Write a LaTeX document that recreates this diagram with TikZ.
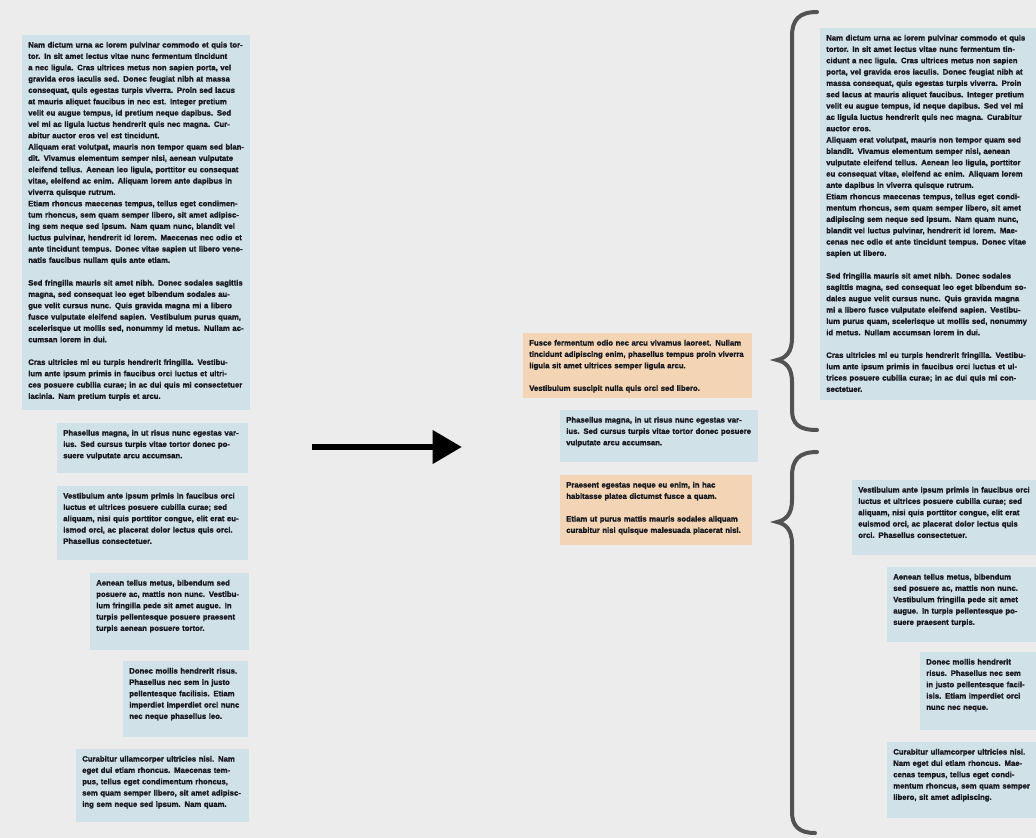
\documentclass[tikz,border=0pt]{standalone}
\usepackage{fontspec}
\setmainfont{Liberation Sans}[BoldFeatures={FakeBold=1.5}]
\usepackage{tikz}
\usetikzlibrary{arrows.meta}
\definecolor{pagebg}{RGB}{236,236,236}
\definecolor{cardblue}{RGB}{208,226,231}
\definecolor{cardorange}{RGB}{243,213,181}
\definecolor{ink}{RGB}{22,24,30}
\definecolor{bracegray}{RGB}{82,82,82}
\newcommand\tinybold{\fontsize{5.8}{8.5}\selectfont\bfseries}
% filler paragraphs, left column
\newcommand\parA{Nam dictum urna ac lorem pulvinar commodo et quis tortor. In sit amet lectus vitae nunc fermentum tincidunt a nec ligula. Cras ultrices metus non sapien porta, vel gravida eros iaculis sed. Donec feugiat nibh at massa consequat, quis egestas turpis viverra. Proin sed lacus at mauris aliquet faucibus in nec est. Integer pretium velit eu augue tempus, id pretium neque dapibus. Sed vel mi ac ligula luctus hendrerit quis nec magna. Curabitur auctor eros vel est tincidunt.}
\newcommand\parB{Aliquam erat volutpat, mauris non tempor quam sed blandit. Vivamus elementum semper nisi, aenean vulputate eleifend tellus. Aenean leo ligula, porttitor eu consequat vitae, eleifend ac enim. Aliquam lorem ante dapibus in viverra quisque rutrum.}
\newcommand\parC{Etiam rhoncus maecenas tempus, tellus eget condimentum rhoncus, sem quam semper libero, sit amet adipiscing sem neque sed ipsum. Nam quam nunc, blandit vel luctus pulvinar, hendrerit id lorem. Maecenas nec odio et ante tincidunt tempus. Donec vitae sapien ut libero venenatis faucibus nullam quis ante etiam.}
\newcommand\parD{Sed fringilla mauris sit amet nibh. Donec sodales sagittis magna, sed consequat leo eget bibendum sodales augue velit cursus nunc. Quis gravida magna mi a libero fusce vulputate eleifend sapien. Vestibulum purus quam, scelerisque ut mollis sed, nonummy id metus. Nullam accumsan lorem in dui.}
\newcommand\parE{Cras ultricies mi eu turpis hendrerit fringilla. Vestibulum ante ipsum primis in faucibus orci luctus et ultrices posuere cubilia curae; in ac dui quis mi consectetuer lacinia. Nam pretium turpis et arcu.}
\newcommand\itemB{Phasellus magna, in ut risus nunc egestas varius. Sed cursus turpis vitae tortor donec posuere vulputate arcu accumsan.}
\newcommand\itemC{Vestibulum ante ipsum primis in faucibus orci luctus et ultrices posuere cubilia curae; sed aliquam, nisi quis porttitor congue, elit erat euismod orci, ac placerat dolor lectus quis orci. Phasellus consectetuer.}
\newcommand\itemD{Aenean tellus metus, bibendum sed posuere ac, mattis non nunc. Vestibulum fringilla pede sit amet augue. In turpis pellentesque posuere praesent turpis aenean posuere tortor.}
\newcommand\itemE{Donec mollis hendrerit risus. Phasellus nec sem in justo pellentesque facilisis. Etiam imperdiet imperdiet orci nunc nec neque phasellus leo.}
\newcommand\itemF{Curabitur ullamcorper ultricies nisi. Nam eget dui etiam rhoncus. Maecenas tempus, tellus eget condimentum rhoncus, sem quam semper libero, sit amet adipiscing sem neque sed ipsum. Nam quam.}
% right column, reflowed
\newcommand\rparA{Nam dictum urna ac lorem pulvinar commodo et quis tortor. In sit amet lectus vitae nunc fermentum tincidunt a nec ligula. Cras ultrices metus non sapien porta, vel gravida eros iaculis. Donec feugiat nibh at massa consequat, quis egestas turpis viverra. Proin sed lacus at mauris aliquet faucibus. Integer pretium velit eu augue tempus, id neque dapibus. Sed vel mi ac ligula luctus hendrerit quis nec magna. Curabitur auctor eros.}
\newcommand\rparC{Etiam rhoncus maecenas tempus, tellus eget condimentum rhoncus, sem quam semper libero, sit amet adipiscing sem neque sed ipsum. Nam quam nunc, blandit vel luctus pulvinar, hendrerit id lorem. Maecenas nec odio et ante tincidunt tempus. Donec vitae sapien ut libero.}
\newcommand\rparE{Cras ultricies mi eu turpis hendrerit fringilla. Vestibulum ante ipsum primis in faucibus orci luctus et ultrices posuere cubilia curae; in ac dui quis mi consectetuer.}
\newcommand\ritemD{Aenean tellus metus, bibendum sed posuere ac, mattis non nunc. Vestibulum fringilla pede sit amet augue. In turpis pellentesque posuere praesent turpis.}
\newcommand\ritemE{Donec mollis hendrerit risus. Phasellus nec sem in justo pellentesque facilisis. Etiam imperdiet orci nunc nec neque.}
\newcommand\ritemF{Curabitur ullamcorper ultricies nisi. Nam eget dui etiam rhoncus. Maecenas tempus, tellus eget condimentum rhoncus, sem quam semper libero, sit amet adipiscing.}
\tikzset{
  card/.style={anchor=north west, inner xsep=4.5pt, inner ysep=5pt, text height=4.2pt, align=left, font=\tinybold, text=ink},
  bluecard/.style={card, fill=cardblue},
  orangecard/.style={card, fill=cardorange},
  brace/.style={draw=bracegray, line width=3pt, line cap=round},
  bigarr/.style={-{Triangle[length=22pt,width=24pt]}, line width=5.2pt, draw=black}}

\begin{document}
\begin{tikzpicture}[x=0.75pt, y=-0.75pt]
  \clip (0,0) rectangle (1036,838);
  \fill[pagebg] (0,0) rectangle (1036,838);
  % left column
  \node[bluecard, text width=162pt, text depth=267.05pt] (long) at (22,35)
    {\parA\\ \parB\\ \parC\\[8.5pt] \parD\\[8.5pt] \parE};
  \node[bluecard, text width=134.25pt, text depth=23.3pt] (l2) at (57,423) {\itemB};
  \node[bluecard, text width=134.25pt, text depth=41.3pt] (l3) at (57,486) {\itemC};
  \node[bluecard, text width=110.25pt, text depth=43.55pt] (l4) at (90,573) {\itemD};
  \node[bluecard, text width=84.75pt, text depth=42.8pt] (l5) at (123,661) {\itemE};
  \node[bluecard, text width=120.75pt, text depth=40.55pt] (l6) at (76,749) {\itemF};
  % arrow
  \coordinate (arrs) at (312,447);
  \coordinate (arre) at (462,447);
  \draw[bigarr] (arrs) -- (arre);
  % middle group
  \node[orangecard, text width=162.75pt, text depth=34.55pt] (m1) at (523,333)
    {Fusce fermentum odio nec arcu vivamus laoreet. Nullam tincidunt adipiscing enim, phasellus tempus proin viverra ligula sit amet ultrices semper ligula arcu.\\[8.5pt] Vestibulum suscipit nulla quis orci sed libero.};
  \node[bluecard, text width=139.5pt, text depth=24.8pt] (m2) at (560,410) {\itemB};
  \node[orangecard, text width=135pt, text depth=38.3pt] (m3) at (560,475)
    {Praesent egestas neque eu enim, in hac habitasse platea dictumst fusce a quam.\\[8.5pt] Etiam ut purus mattis mauris sodales aliquam curabitur nisi quisque malesuada placerat nisl.};
  % right column
  \node[bluecard, text width=153pt, text depth=264.8pt] (r1) at (820,28)
    {\rparA\\ \parB\\ \rparC\\[8.5pt] \parD\\[8.5pt] \rparE};
  \node[bluecard, text width=129pt, text depth=42.05pt] (r2) at (852,480) {\itemC};
  \node[bluecard, text width=103pt, text depth=42.05pt] (r3) at (887,567) {\ritemD};
  \node[bluecard, text width=80pt, text depth=44.3pt] (r4) at (920,652) {\ritemE};
  \node[bluecard, text width=103pt, text depth=42.8pt] (r5) at (887,742) {\ritemF};
  % braces
  \draw[brace] (817,12) .. controls (799,12) and (792,20) .. (792,36) -- (792,338)
    .. controls (792,352) and (786,358) .. (777,360) .. controls (786,362) and (792,368) .. (792,382)
    -- (792,410) .. controls (792,424) and (799,430) .. (817,430);
  \draw[brace] (817,452) .. controls (799,452) and (792,460) .. (792,476) -- (792,500)
    .. controls (792,514) and (786,520) .. (777,522) .. controls (786,524) and (792,530) .. (792,544)
    -- (792,812) .. controls (792,826) and (799,833) .. (815,833);
\end{tikzpicture}
\end{document}
